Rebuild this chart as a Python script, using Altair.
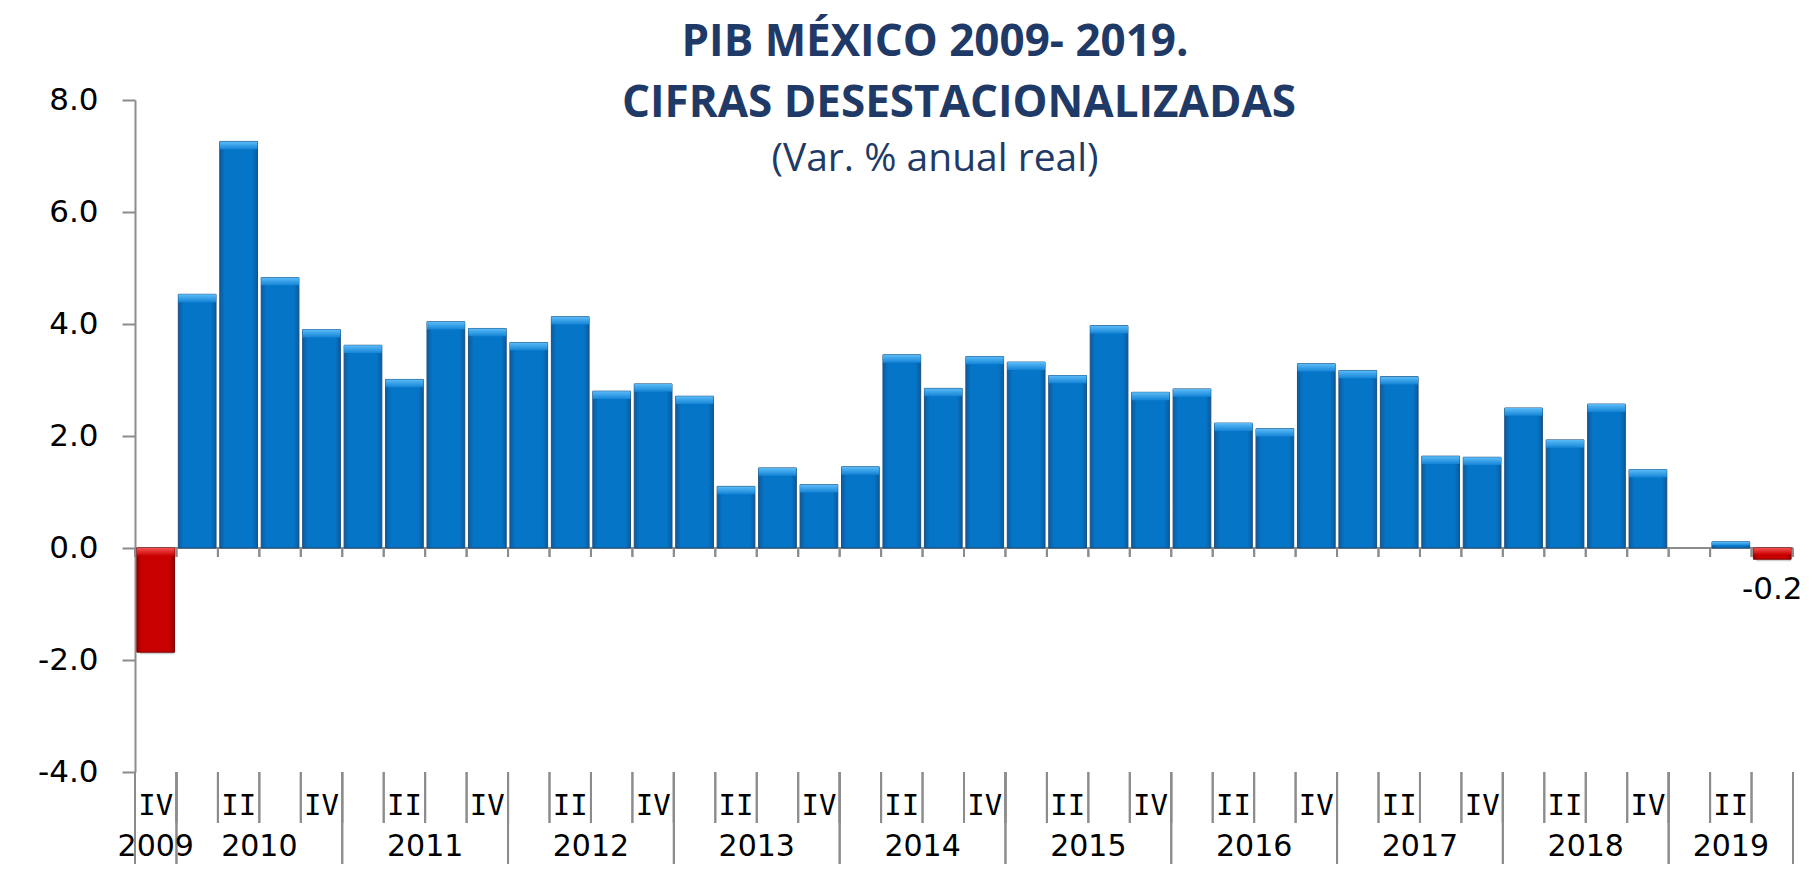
import altair as alt
import pandas as pd

# ---------------- data ----------------
quarters = ["IV"] + ["I", "II", "III", "IV"] * 9 + ["I", "II", "III"]
years = (["2009"]
         + ["2010"] * 4 + ["2011"] * 4 + ["2012"] * 4 + ["2013"] * 4
         + ["2014"] * 4 + ["2015"] * 4 + ["2016"] * 4 + ["2017"] * 4
         + ["2018"] * 4 + ["2019"] * 3)
values = [-1.86, 4.53, 7.26, 4.83, 3.90, 3.62, 3.01, 4.04, 3.92, 3.67,
          4.13, 2.80, 2.93, 2.71, 1.10, 1.43, 1.13, 1.45, 3.45, 2.85,
          3.42, 3.32, 3.08, 3.97, 2.78, 2.84, 2.23, 2.13, 3.29, 3.17,
          3.06, 1.64, 1.62, 2.50, 1.93, 2.57, 1.40, 0.00, 0.11, -0.20]
y_ticks = [-4, -2, 0, 2, 4, 6, 8]
title_lines = ["PIB MÉXICO 2009- 2019.", "CIFRAS DESESTACIONALIZADAS", "(Var. % anual real)"]
labelled_quarters = ["II", "IV"]

df = pd.DataFrame({"idx": list(range(len(values))), "quarter": quarters,
                   "year": years, "value": values})

GREY = "#8c8c8c"
NAVY = "#1F3A66"
W, H = 1658, 672
N = len(values)

xs = alt.Scale(domain=[0, N], nice=False, zero=False)
ys = alt.Scale(domain=[-4, 8], nice=False)

LBL = "datum.value < 0 ? '-' + format(-datum.value, '.1f') : format(datum.value, '.1f')"
yaxis = alt.Axis(values=y_ticks, grid=False, title=None, labelExpr=LBL,
                 domainColor=GREY, domainWidth=2, tickColor=GREY, tickWidth=2,
                 tickSize=13, labelFont="DejaVu Sans", labelFontSize=31,
                 labelColor="#000000", labelPadding=24)


def Y(field):
    return alt.Y(field, scale=ys, axis=yaxis)


def X(field):
    return alt.X(field, scale=xs, axis=None)


def grad_h(edge, mid):
    return alt.Gradient(gradient="linear", x1=0, x2=1, y1=0, y2=0,
                        stops=[alt.GradientStop(offset=0, color=edge),
                               alt.GradientStop(offset=0.14, color=mid),
                               alt.GradientStop(offset=0.86, color=mid),
                               alt.GradientStop(offset=1, color=edge)])


def grad_v(top, bottom):
    return alt.Gradient(gradient="linear", x1=0, x2=0, y1=0, y2=1,
                        stops=[alt.GradientStop(offset=0, color=top),
                               alt.GradientStop(offset=1, color=bottom)])


base = alt.Chart(df).transform_calculate(
    start="datum.idx + 0.045",
    end="datum.idx + 0.955",
    zero="0",
    top="max(datum.value, 0)",
    btm="max(datum.value, 0) - min(0.14, abs(datum.value) * 0.6)",
)

# zero line
zero_df = pd.DataFrame({"x0": [0], "x1": [N], "y0": [0]})
zero_line = alt.Chart(zero_df).mark_rule(color=GREY, strokeWidth=2).encode(
    x=X("x0:Q"), x2="x1:Q", y=Y("y0:Q"),
)

# ticks under the zero line at every quarter boundary
zero_ticks = alt.Chart(df).transform_calculate(
    b1="datum.idx + 1", z0="0", z1="-0.16"
).transform_fold(["idx", "b1"], as_=["k", "bx"]).mark_rule(
    color=GREY, strokeWidth=2
).encode(x=X("bx:Q"), y=Y("z0:Q"), y2="z1:Q")

# shadow
shadow = base.transform_filter("datum.value != 0").mark_rect(
    color="#000000", opacity=0.18, xOffset=3, yOffset=2
).encode(x=X("start:Q"), x2="end:Q", y=Y("value:Q"), y2="zero:Q")

bars_pos = base.transform_filter("datum.value > 0").mark_rect(
    color=grad_h("#0a5c9f", "#0575c8"), stroke="#1d4f7e", strokeWidth=1
).encode(x=X("start:Q"), x2="end:Q", y=Y("value:Q"), y2="zero:Q")

bars_neg = base.transform_filter("datum.value < 0").mark_rect(
    color=grad_h("#9a0000", "#c80000"), stroke="#7a0000", strokeWidth=1
).encode(x=X("start:Q"), x2="end:Q", y=Y("value:Q"), y2="zero:Q")

bevel_pos = base.transform_filter("datum.value > 0").mark_rect(
    color=grad_v("#5cbcf8", "#1484d6")
).encode(x=X("start:Q"), x2="end:Q", y=Y("top:Q"), y2="btm:Q")

bevel_neg = base.transform_filter("datum.value < 0").mark_rect(
    color=grad_v("#f45050", "#cc0000")
).encode(x=X("start:Q"), x2="end:Q", y=Y("top:Q"), y2="btm:Q")

# value label of the last bar
last_label = alt.Chart(df).transform_filter(f"datum.idx == {N - 1}").transform_calculate(
    mid="datum.idx + 0.5",
    lbl="datum.value < 0 ? '-' + format(-datum.value, '.1f') : format(datum.value, '.1f')",
).mark_text(font="DejaVu Sans", fontSize=31, color="#000000", dy=40,
            baseline="alphabetic", align="center").encode(
    x=X("mid:Q"), y=Y("value:Q"), text="lbl:N",
)

# quarter separators below the plot
q_sep = alt.Chart(df).transform_calculate(b1="datum.idx + 1").transform_fold(
    ["idx", "b1"], as_=["k", "bx"]
).mark_rule(color=GREY, strokeWidth=2).encode(
    x=X("bx:Q"), y=alt.value(H), y2=alt.value(H + 51),
)

# year separators
y_sep = alt.Chart(df).transform_aggregate(
    lo="min(idx)", hi="max(idx)", groupby=["year"]
).transform_calculate(hi1="datum.hi + 1").transform_fold(
    ["lo", "hi1"], as_=["k", "bx"]
).mark_rule(color=GREY, strokeWidth=2).encode(
    x=X("bx:Q"), y=alt.value(H), y2=alt.value(H + 92),
)

q_labels = alt.Chart(df).transform_filter(
    alt.FieldOneOfPredicate(field="quarter", oneOf=labelled_quarters)
).transform_calculate(mid="datum.idx + 0.5").mark_text(
    font="DejaVu Sans Mono", fontSize=29, color="#000000", baseline="alphabetic", align="center"
).encode(x=X("mid:Q"), y=alt.value(H + 43), text="quarter:N")

yr_labels = alt.Chart(df).transform_aggregate(
    lo="min(idx)", hi="max(idx)", groupby=["year"]
).transform_calculate(mid="(datum.lo + datum.hi + 1) / 2").mark_text(
    font="DejaVu Sans", fontSize=30, color="#000000", baseline="alphabetic", align="center"
).encode(x=X("mid:Q"), y=alt.value(H + 84), text="year:N")

# titles
t_df = pd.DataFrame({"t": title_lines})
t1 = alt.Chart(t_df).transform_filter(alt.datum.t == title_lines[0]).mark_text(
    font="Open Sans", fontWeight="bold", fontSize=44, color=NAVY, align="center", baseline="alphabetic"
).encode(x=alt.value(800), y=alt.value(-44), text="t:N")
t2 = alt.Chart(t_df).transform_filter(alt.datum.t == title_lines[1]).mark_text(
    font="Open Sans", fontWeight="bold", fontSize=44, color=NAVY, align="center", baseline="alphabetic"
).encode(x=alt.value(824), y=alt.value(17), text="t:N")
t3 = alt.Chart(t_df).transform_filter(alt.datum.t == title_lines[2]).mark_text(
    font="Open Sans", fontSize=39, color=NAVY, align="center", baseline="alphabetic"
).encode(x=alt.value(800), y=alt.value(71), text="t:N")

chart = alt.layer(
    zero_line, zero_ticks, shadow, bars_pos, bars_neg, bevel_pos, bevel_neg,
    last_label, q_sep, y_sep, q_labels, yr_labels, t1, t2, t3
).properties(
    width=W, height=H,
    autosize=alt.AutoSizeParams(type="none"),
    padding={"left": 127, "top": 92, "right": 15, "bottom": 92},
    background="#ffffff",
).configure_view(stroke=None)

chart.save("out.html", embed_options={"renderer": "svg", "actions": False})
